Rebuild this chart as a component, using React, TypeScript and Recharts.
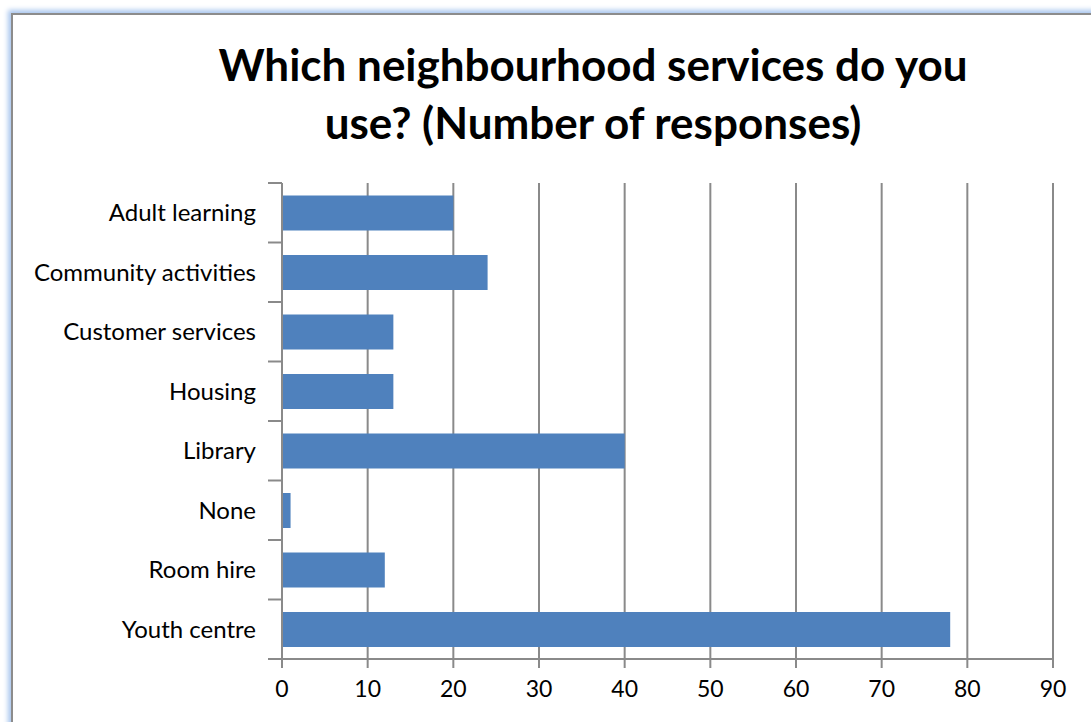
import React from "react"
import { Bar, BarChart, CartesianGrid, XAxis, YAxis } from "recharts"

const services = [
  "Adult learning",
  "Community activities",
  "Customer services",
  "Housing",
  "Library",
  "None",
  "Room hire",
  "Youth centre",
]
const responses = [20, 24, 13, 13, 40, 1, 12, 78]
const xTicks = [0, 10, 20, 30, 40, 50, 60, 70, 80, 90]

const data = services.map((name, i) => ({ name, value: responses[i] }))

const W = 1091
const H = 722
const margin = { top: 183, right: 38, left: 0, bottom: 0 }
const yAxisWidth = 282
const xAxisHeight = 63
const plotHeight = H - margin.top - xAxisHeight
const band = plotHeight / services.length
const gray = "#8a8a8a"
const font = "Lato, 'Open Sans', sans-serif"

function CategoryTick(props: any) {
  const { x, y, payload, index } = props
  const lx1 = x + 12
  const lx2 = x + 26
  return (
    <g>
      <text x={x} y={y} dy="0.35em" textAnchor="end" fill="#000" fontSize={24} fontFamily={font}>
        {payload.value}
      </text>
      <line x1={lx1} x2={lx2} y1={y - band / 2} y2={y - band / 2} stroke={gray} strokeWidth={2} />
      {index === services.length - 1 && (
        <line x1={lx1} x2={lx2} y1={y + band / 2} y2={y + band / 2} stroke={gray} strokeWidth={2} />
      )}
    </g>
  )
}

export default function App() {
  return (
    <div style={{ position: "absolute", left: 0, top: 0, width: W, height: H, overflow: "hidden", background: "#fff" }}>
      <div
        style={{
          position: "absolute",
          left: 11,
          top: 13,
          width: 1120,
          height: 760,
          border: "2px solid #8c8c8c",
          boxShadow: "0 0 5px 3px #a9c6ee",
          background: "#fff",
        }}
      />
      <div
        style={{
          position: "absolute",
          left: 93,
          top: 35,
          width: 1000,
          textAlign: "center",
          fontFamily: font,
          fontWeight: 700,
          fontSize: 44,
          lineHeight: "58px",
          color: "#000",
        }}
      >
        Which neighbourhood services do you
        <br />
        use? (Number of responses)
      </div>
      <div style={{ position: "absolute", left: 0, top: 0 }}>
        <BarChart width={W} height={H} data={data} layout="vertical" margin={margin} barCategoryGap="21%">
          <CartesianGrid horizontal={false} stroke={gray} strokeWidth={2} />
          <XAxis
            type="number"
            domain={[0, 90]}
            ticks={xTicks}
            interval={0}
            height={xAxisHeight}
            axisLine={{ stroke: gray, strokeWidth: 2 }}
            tickLine={{ stroke: gray, strokeWidth: 2 }}
            tickSize={9}
            tickMargin={13}
            tick={{ fill: "#000", fontSize: 23, fontFamily: font }}
          />
          <YAxis
            type="category"
            dataKey="name"
            width={yAxisWidth}
            interval={0}
            axisLine={{ stroke: gray, strokeWidth: 2 }}
            tickLine={false}
            tickSize={14}
            tickMargin={12}
            tick={<CategoryTick />}
          />
          <Bar dataKey="value" fill="#4f81bd" isAnimationActive={false} />
        </BarChart>
      </div>
    </div>
  )
}
